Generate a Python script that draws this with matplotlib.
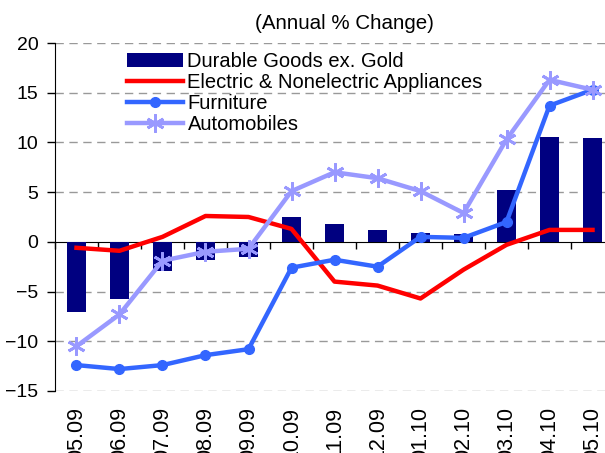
import matplotlib.pyplot as plt
import numpy as np

plt.rcParams['font.family'] = ['Liberation Sans', 'DejaVu Sans']

# Data (annual % change)
months = ["05.09", "06.09", "07.09", "08.09", "09.09", "10.09", "11.09",
          "12.09", "01.10", "02.10", "03.10", "04.10", "05.10"]
durable = [-7.1, -5.8, -2.9, -1.8, -1.5, 2.5, 1.8, 1.2, 0.9, 0.8, 5.2, 10.5, 10.4]
appliances = [-0.6, -0.9, 0.5, 2.6, 2.5, 1.3, -4.0, -4.4, -5.7, -2.8, -0.3, 1.2, 1.2]
furniture = [-12.4, -12.8, -12.4, -11.4, -10.8, -2.6, -1.8, -2.5, 0.5, 0.4, 2.0, 13.7, 15.3]
autos = [-10.5, -7.3, -1.9, -1.0, -0.7, 5.1, 7.0, 6.4, 5.1, 2.9, 10.3, 16.3, 15.3]

x = np.arange(len(months))

fig = plt.figure(figsize=(6.05, 4.53), dpi=100)
ax = fig.add_axes([0.0909, 0.137, 0.924, 0.768])

# dashed grid
for yv in [-15, -10, -5, 5, 10, 15, 20]:
    ax.axhline(yv, color="#999999", lw=1, ls=(0, (6, 4)), zorder=0)

bars = ax.bar(x, durable, width=0.42, color="#000080", zorder=2,
              label="Durable Goods ex. Gold")
l1, = ax.plot(x, appliances, color="#FF0000", lw=3.2, zorder=3,
              label="Electric & Nonelectric Appliances")
l2, = ax.plot(x, furniture, color="#3366FF", lw=3.2, marker="o", ms=7, zorder=4,
              label="Furniture")
l3, = ax.plot(x, autos, color="#9999FF", lw=3.2, marker=(6, 2, 0), ms=13,
              mew=2, zorder=5, label="Automobiles")

ax.set_xlim(-0.5, len(months) - 0.5)
ax.set_ylim(-15, 20)
ax.set_yticks(range(-15, 21, 5))
ax.tick_params(axis="y", labelsize=14, length=6, direction="out", width=1, pad=6)

# x axis at zero, ticks between categories
ax.spines["top"].set_visible(False)
ax.spines["right"].set_visible(False)
ax.spines["bottom"].set_position(("data", 0))
ax.spines["bottom"].set_zorder(1)
ax.set_xticks(x)
ax.set_xticklabels([])
ax.tick_params(axis="x", which="major", length=0)
ax.set_xticks(np.arange(len(months) + 1) - 0.5, minor=True)
ax.tick_params(axis="x", which="minor", length=5, direction="out", width=1)

# month labels sit below the plot (cut at the bottom edge, as in the original)
for xi, lab in zip(x, months):
    ax.text(xi, -0.045, lab, rotation=90, ha="center", va="top", fontsize=15.5,
            transform=ax.get_xaxis_transform(), clip_on=False)

fig.text(0.569, 0.949, "(Annual % Change)", ha="center", va="center", fontsize=14.8)

ax.legend(handles=[bars, l1, l2, l3], loc="upper left",
          bbox_to_anchor=(0.21, 0.886), bbox_transform=fig.transFigure,
          frameon=False, fontsize=14.5, handlelength=2.8, handletextpad=0.2,
          labelspacing=0.1, borderpad=0, borderaxespad=0)

fig.savefig("out.png", dpi=100)
